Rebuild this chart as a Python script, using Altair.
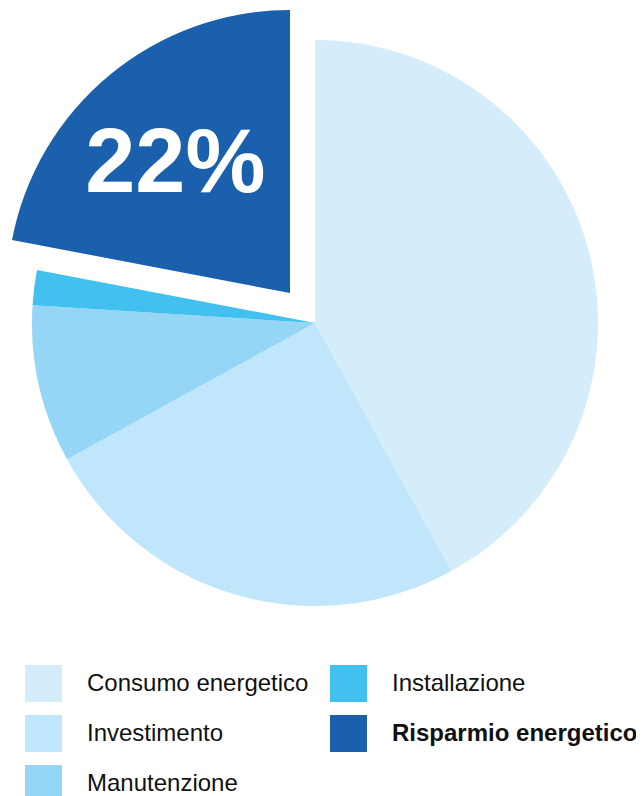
import altair as alt
import pandas as pd

categories = ["Consumo energetico", "Investimento", "Manutenzione", "Installazione", "Risparmio energetico"]
values = [42, 25, 9, 2, 22]
colors = ["#d5ecfa", "#bfe6fa", "#95d5f5", "#42c0ef", "#1a60ac"]
highlight = "Risparmio energetico"

df = pd.DataFrame({"cat": categories, "value": values, "idx": list(range(len(categories)))})

base = (
    alt.Chart(df)
    .transform_joinaggregate(total="sum(value)")
    .transform_window(cum="sum(value)", sort=[alt.SortField("idx")])
    .transform_calculate(
        a0="2*PI*(datum.cum - datum.value)/datum.total",
        a1="2*PI*datum.cum/datum.total",
        amid="PI*(2*datum.cum - datum.value)/datum.total",
        label="format(datum.value/datum.total, '.0%')",
    )
)

color = alt.Color(
    "cat:N",
    scale=alt.Scale(domain=categories, range=colors),
    legend=alt.Legend(
        title=None,
        orient="none",
        legendX=17,
        legendY=657,
        columns=2,
        direction="vertical",
        symbolType="square",
        symbolSize=1369,
        symbolStrokeWidth=0,
        symbolOpacity=1,
        labelFont="Liberation Sans",
        labelFontSize=24,
        labelColor="#111111",
        labelFontWeight=alt.ExprRef("datum.label == 'Risparmio energetico' ? 'bold' : 'normal'"),
        labelOffset=25,
        labelLimit=400,
        columnPadding=21,
        rowPadding=13,
        padding=0,
    ),
)

main = base.transform_filter(alt.datum.cat != highlight).mark_arc(outerRadius=283).encode(
    theta=alt.Theta("a0:Q", scale=None),
    theta2="a1:Q",
    color=color,
)

exploded = base.transform_filter(alt.datum.cat == highlight).mark_arc(
    outerRadius=283, xOffset=-25, yOffset=-30
).encode(
    theta=alt.Theta("a0:Q", scale=None),
    theta2="a1:Q",
    color=color,
)

text = base.transform_filter(alt.datum.cat == highlight).mark_text(
    radius=172,
    xOffset=-30,
    yOffset=-25,
    font="Liberation Sans",
    fontSize=90,
    fontWeight="bold",
    color="white",
    align="center",
    baseline="middle",
).encode(
    theta=alt.Theta("amid:Q", scale=None),
    text="label:N",
)

chart = (
    alt.layer(main, exploded, text)
    .properties(
        width=614,
        height=630,
        padding={"left": 0, "top": 0, "right": 14, "bottom": 158},
        autosize=alt.AutoSizeParams(type="none"),
    )
    .configure_view(stroke=None)
)

chart.save("out.html", embed_options={"renderer": "svg", "actions": False})
